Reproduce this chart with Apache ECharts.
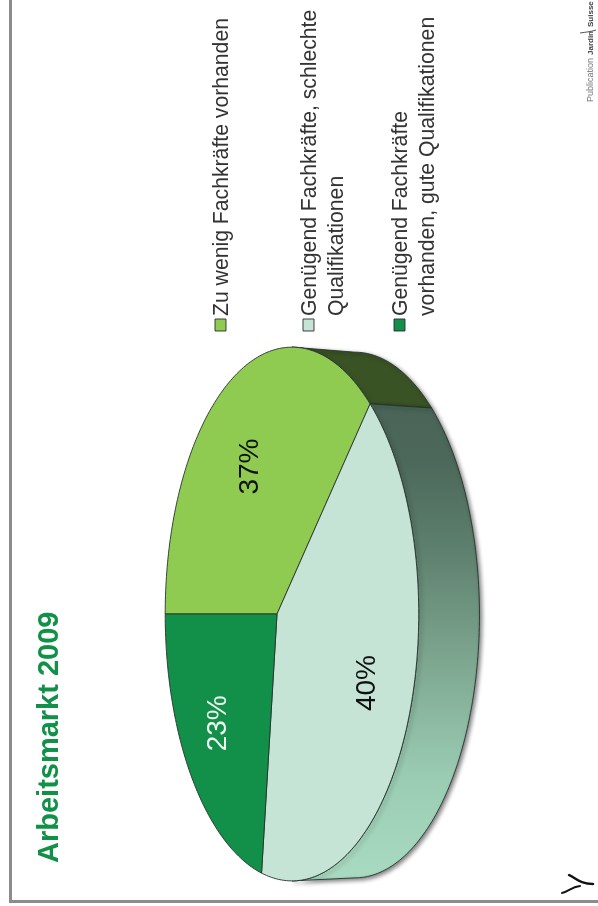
<!DOCTYPE html>
<html>
<head>
<meta charset="utf-8">
<title>Arbeitsmarkt 2009</title>
<script src="https://cdn.jsdelivr.net/npm/echarts@6/dist/echarts.min.js"></script>
<style>
  html, body { margin: 0; padding: 0; background: #fff; overflow: hidden; width: 598px; height: 906px; }
  /* The page is a landscape sheet turned a quarter turn to the left. */
  #sheet { position: absolute; left: 0; top: 0; width: 906px; height: 598px;
           transform-origin: 0 0; transform: translate(0, 906px) rotate(-90deg); }
</style>
</head>
<body>
<div id="sheet"></div>
<script>
const titleText = 'Arbeitsmarkt 2009';
const categories = [
  'Zu wenig Fachkräfte vorhanden',
  'Genügend Fachkräfte, schlechte\nQualifikationen',
  'Genügend Fachkräfte\nvorhanden, gute Qualifikationen'
];
const shares = [37, 40, 23];
const faceColors = ['#8fcb50', '#c6e4d6', '#128f48'];
const labelColors = ['#111111', '#111111', '#eef7f0'];
const labelRadius = [0.61, 0.706, 0.66];
const labelAnchor = [0.52, 0.463, 0.5];

const total = shares.reduce((a, b) => a + b, 0);
const FONT = '"Liberation Sans", Arial, sans-serif';
const OUTLINE = '#26332a';

// Perspective view of the disc: hub position, half axes and foreshortening.
const disc = { cu: 292, cv: 277, a: 265, b: 125, k: 0.118 };
const base = { cu: 291, cv: 340, a: 261, b: 123, k: 0.118 };

// Only this stretch of the rim faces the viewer; the rest of the wall is hidden.
const rimFrom = Math.acos(-disc.k);
const rimTo = Math.PI * 2 - rimFrom;

function project(view, theta, r) {
  const x = Math.sin(theta) * r;
  const y = -Math.cos(theta) * r;
  const w = 1 - view.k * y;
  return [view.cu + view.a * x / w, view.cv + view.b * y / w];
}

function sliceAngles(index) {
  let before = 0;
  for (let i = 0; i < index; i++) before += shares[i];
  const start = before / total * Math.PI * 2;
  return [start, start + shares[index] / total * Math.PI * 2];
}

function arc(view, from, to) {
  const steps = Math.max(8, Math.ceil(Math.abs(to - from) / 0.02));
  const pts = [];
  for (let i = 0; i <= steps; i++) pts.push(project(view, from + (to - from) * i / steps, 1));
  return pts;
}

const wallFills = [
  '#3a5325',
  { type: 'linear', x: 0, y: 0, x2: 1, y2: 0, colorStops: [
    { offset: 0, color: '#a9dac2' },
    { offset: 0.22, color: '#9accb3' },
    { offset: 0.45, color: '#7fa891' },
    { offset: 0.7, color: '#5d7f6d' },
    { offset: 0.88, color: '#4c685a' },
    { offset: 1, color: '#4a6558' }
  ] },
  '#0c5f30'
];

function renderWall(params) {
  const [start, end] = sliceAngles(params.dataIndex);
  const from = Math.max(start, rimFrom);
  const to = Math.min(end, rimTo);
  if (from >= to) return null;
  const points = arc(disc, from, to).concat(arc(base, to, from));
  return {
    type: 'polygon',
    shape: { points: points },
    style: {
      fill: wallFills[params.dataIndex], stroke: OUTLINE, lineWidth: 0.9,
      shadowBlur: 4, shadowColor: 'rgba(0,0,0,0.5)', shadowOffsetX: -2, shadowOffsetY: 2
    }
  };
}

function renderFace(params, api) {
  const i = params.dataIndex;
  const [from, to] = sliceAngles(i);
  const hub = project(disc, 0, 0);
  const mid = project(disc, from + (to - from) * labelAnchor[i], labelRadius[i]);
  return {
    type: 'group',
    children: [
      {
        type: 'polygon',
        shape: { points: [hub].concat(arc(disc, from, to)) },
        style: { fill: faceColors[i], stroke: OUTLINE, lineWidth: 0.9, lineJoin: 'round' }
      },
      {
        type: 'text',
        z2: 10,
        style: {
          text: api.value(0) + '%', x: mid[0], y: mid[1], align: 'center', verticalAlign: 'middle',
          fill: labelColors[i], font: '28px ' + FONT
        }
      }
    ]
  };
}

// Legend entries: a swatch beside the first line of each wrapped caption.
const legendTop = [214, 302, 393];
const legendGraphics = [];
categories.forEach((name, i) => {
  legendGraphics.push({
    type: 'rect',
    shape: { x: 575, y: legendTop[i] + 1, width: 12, height: 11 },
    style: { fill: faceColors[i], stroke: '#2a2a2a', lineWidth: 0.9 }
  });
  legendGraphics.push({
    type: 'text',
    x: 590, y: legendTop[i] - 5,
    style: {
      text: name, fill: '#333333', font: '21.2px ' + FONT, lineHeight: 26.5,
      align: 'left', verticalAlign: 'top'
    }
  });
});

const frameGraphics = [
  { type: 'rect', shape: { x: 3, y: 9, width: 906, height: 3 }, style: { fill: '#8c8c8c' } },
  { type: 'rect', shape: { x: 3, y: 9, width: 3, height: 600 }, style: { fill: '#8c8c8c' } }
];

// Publisher mark in the corners of the sheet.
const logoGraphics = [
  { type: 'bezierCurve', shape: { x1: 31, y1: 569, cpx1: 28, cpy1: 576, cpx2: 22, cpy2: 580, x2: 22, y2: 593 },
    style: { stroke: '#111', lineWidth: 2.4, fill: 'none', lineCap: 'round' } },
  { type: 'bezierCurve', shape: { x1: 13, y1: 562, cpx1: 15, cpy1: 570, cpx2: 19, cpy2: 571, x2: 20, y2: 580 },
    style: { stroke: '#111', lineWidth: 2, fill: 'none', lineCap: 'round' } },
  { type: 'text', x: 804, y: 591, style: { text: 'Publication', font: '9px ' + FONT, fill: '#777', align: 'left', verticalAlign: 'middle' } },
  { type: 'text', x: 851, y: 591, style: { text: 'Jardin', font: 'bold 8px ' + FONT, fill: '#444', align: 'left', verticalAlign: 'middle' } },
  { type: 'text', x: 879, y: 591, style: { text: 'Suisse', font: 'bold 8px ' + FONT, fill: '#444', align: 'left', verticalAlign: 'middle' } },
  { type: 'bezierCurve', shape: { x1: 873, y1: 580, cpx1: 874, cpy1: 586, cpx2: 874, cpy2: 590, x2: 876, y2: 596 },
    style: { stroke: '#555', lineWidth: 1, fill: 'none' } }
];

const chart = echarts.init(document.getElementById('sheet'), null, { width: 906, height: 598 });
chart.setOption({
  animation: false,
  backgroundColor: '#ffffff',
  title: {
    text: titleText, left: 38, top: 30,
    textStyle: { color: '#119147', fontFamily: FONT, fontWeight: 'bold', fontSize: 29 }
  },
  graphic: { elements: frameGraphics.concat(legendGraphics, logoGraphics) },
  series: [
    { type: 'custom', name: 'Seitenwand', coordinateSystem: 'none', silent: true, z: 1,
      data: shares, renderItem: renderWall },
    { type: 'custom', name: 'Deckfläche', coordinateSystem: 'none', silent: true, z: 2,
      data: shares, renderItem: renderFace }
  ]
});
</script>
</body>
</html>
